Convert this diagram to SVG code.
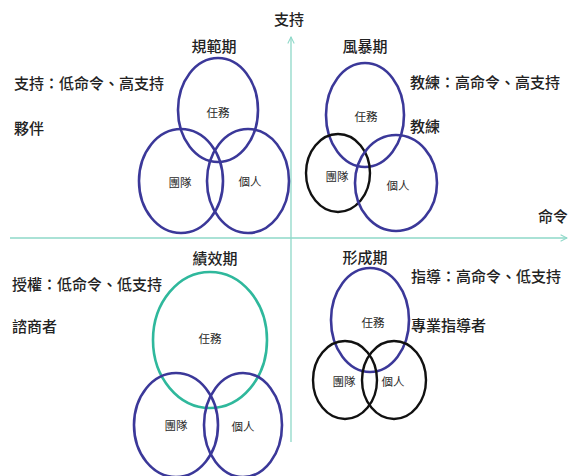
<svg xmlns="http://www.w3.org/2000/svg" width="568" height="476" viewBox="0 0 568 476">
<style>
.b{fill:none;stroke:#3b3899;stroke-width:2.6}
.k{fill:none;stroke:#111;stroke-width:2.4}
.t{fill:none;stroke:#2fb89c;stroke-width:2.6}
.lbl{font-family:"Noto Sans CJK TC","Noto Sans CJK SC",sans-serif;font-size:11.5px;fill:#2a2a2a;text-anchor:middle}
.big{font-family:"Noto Sans CJK TC","Noto Sans CJK SC",serif;font-size:15px;fill:#222;font-weight:500}
.ttl{font-family:"Noto Sans CJK TC","Noto Sans CJK SC",serif;font-size:15px;fill:#222;font-weight:500;text-anchor:middle}
.ax{stroke:#8ed8c8;stroke-width:1.3;fill:none}
</style>
<defs>
<marker id="ah" viewBox="0 0 10 10" refX="9" refY="5" markerWidth="8" markerHeight="8" orient="auto" markerUnits="userSpaceOnUse">
<path d="M1,1 L9,5 L1,9" fill="none" stroke="#8ed8c8" stroke-width="1.3"/>
</marker>
</defs>
<rect width="568" height="476" fill="#fff"/>
<g id="connectors">
<line class="ax" x1="291" y1="442" x2="291" y2="37" marker-end="url(#ah)"/>
<line class="ax" x1="10" y1="238" x2="567" y2="238" marker-end="url(#ah)"/>
</g>
<g id="axis-labels">
<text class="ttl" x="289" y="25">支持</text>
<text class="ttl" x="553" y="222">命令</text>
</g>
<g id="norming">
<text class="ttl" x="214" y="52">規範期</text>
<text class="big" x="14" y="89">支持：低命令、高支持</text>
<text class="big" x="14" y="134">夥伴</text>
<g id="norming-task"><ellipse class="b" cx="218" cy="110" rx="40" ry="52"/><text class="lbl" x="218" y="117">任務</text></g>
<g id="norming-team"><ellipse class="b" cx="181" cy="181" rx="42" ry="52"/><text class="lbl" x="180" y="187">團隊</text></g>
<g id="norming-indiv"><ellipse class="b" cx="248" cy="181" rx="41" ry="52"/><text class="lbl" x="250" y="186">個人</text></g>
</g>
<g id="storming">
<text class="ttl" x="365" y="52">風暴期</text>
<text class="big" x="410" y="88">教練：高命令、高支持</text>
<text class="big" x="410" y="132">教練</text>
<g id="storming-task"><ellipse class="b" cx="365" cy="115" rx="39" ry="52"/><text class="lbl" x="366" y="121">任務</text></g>
<g id="storming-team"><ellipse class="k" cx="338" cy="173" rx="32" ry="39"/><text class="lbl" x="337" y="181">團隊</text></g>
<g id="storming-indiv"><ellipse class="b" cx="396" cy="183" rx="41" ry="48"/><text class="lbl" x="398" y="190">個人</text></g>
</g>
<g id="performing">
<text class="ttl" x="215" y="264">績效期</text>
<text class="big" x="12" y="290">授權：低命令、低支持</text>
<text class="big" x="12" y="332">諮商者</text>
<g id="performing-task"><ellipse class="t" cx="210" cy="340" rx="57" ry="68"/><text class="lbl" x="210" y="343">任務</text></g>
<g id="performing-team"><ellipse class="b" cx="176" cy="425" rx="42" ry="52"/><text class="lbl" x="176" y="430">團隊</text></g>
<g id="performing-indiv"><ellipse class="b" cx="243" cy="425" rx="39" ry="52"/><text class="lbl" x="243" y="431">個人</text></g>
</g>
<g id="forming">
<text class="ttl" x="365" y="263">形成期</text>
<text class="big" x="411" y="282">指導：高命令、低支持</text>
<text class="big" x="411" y="331">專業指導者</text>
<g id="forming-task"><ellipse class="b" cx="370" cy="320" rx="39" ry="52"/><text class="lbl" x="373" y="327">任務</text></g>
<g id="forming-team"><ellipse class="k" cx="345" cy="380" rx="32" ry="39"/><text class="lbl" x="344" y="386">團隊</text></g>
<g id="forming-indiv"><ellipse class="k" cx="394" cy="380" rx="32" ry="39"/><text class="lbl" x="393" y="386">個人</text></g>
</g>
</svg>
